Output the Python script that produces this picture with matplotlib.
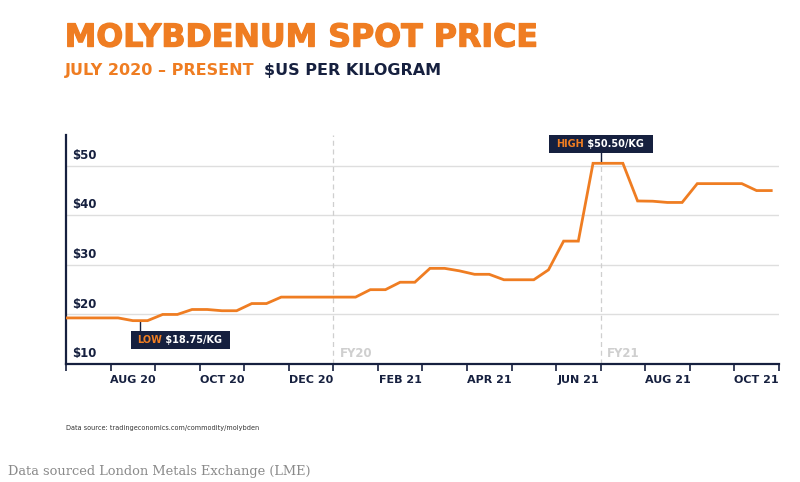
import matplotlib.pyplot as plt
import matplotlib.patheffects as pe
from matplotlib.patches import Rectangle
from matplotlib.transforms import blended_transform_factory

orange = '#ef7d22'
navy = '#16203f'
grid_grey = '#dedede'
fy_grey = '#cfcfcf'

# price vertices, x = months since 1 Jul 2020
months = [0, 1.17, 1.5, 1.83, 2.17, 2.5, 2.83, 3.17, 3.5, 3.83,
          4.17, 4.5, 4.83, 6.5, 6.83, 7.17, 7.5, 7.83, 8.17, 8.5,
          8.83, 9.17, 9.5, 9.83, 10.5, 10.83, 11.17, 11.5, 11.83, 12.5,
          12.83, 13.17, 13.5, 13.83, 14.17, 15.17, 15.5, 15.83]
prices = [19.3, 19.3, 18.75, 18.75, 20.0, 20.0, 21.0, 21.0, 20.75, 20.75,
          22.2, 22.2, 23.5, 23.5, 25.0, 25.0, 26.5, 26.5, 29.3, 29.3,
          28.8, 28.1, 28.1, 27.0, 27.0, 29.0, 34.8, 34.8, 50.5, 50.5,
          42.9, 42.85, 42.6, 42.6, 46.4, 46.4, 45.0, 45.0]

month_ticks = list(range(17))
label_pos = [1.5, 3.5, 5.5, 7.5, 9.5, 11.5, 13.5, 15.5]
label_txt = ["AUG 20", "OCT 20", "DEC 20", "FEB 21", "APR 21", "JUN 21", "AUG 21", "OCT 21"]
y_vals = [10, 20, 30, 40, 50]
y_txt = ["$10", "$20", "$30", "$40", "$50"]

fy_pos = [6, 12]
fy_txt = ["FY20", "FY21"]

low_x, low_y = 1.67, 18.75
high_x, high_y = 12, 50.5

fig = plt.figure(figsize=(8, 4.82), dpi=100)
ax = fig.add_axes([0.0825, 0.2448, 0.891, 0.475])

ax.plot(months, prices, color=orange, lw=2, solid_joinstyle='miter', zorder=3)

ax.set_xlim(0, 16)
ax.set_ylim(10, 56.2)

# grid lines
for v in y_vals[1:]:
    ax.axhline(v, color=grid_grey, lw=1, zorder=1)

# y labels sit inside the plot above each line
trans = blended_transform_factory(ax.transAxes, ax.transData)
for v, t in zip(y_vals, y_txt):
    ax.text(0.008, v + 2.1, t, transform=trans, ha='left', va='center',
            fontsize=8.5, fontweight='bold', color=navy)
ax.set_yticks([])

# fiscal year dividers
for p, t in zip(fy_pos, fy_txt):
    ax.axvline(p, color=fy_grey, lw=0.9, ls=(0, (4, 3)), zorder=1)
    ax.text(p + 0.15, 12.1, t, ha='left', va='center', fontsize=8.5,
            fontweight='bold', color=fy_grey)

ax.set_xticks(month_ticks)
ax.set_xticklabels([])
ax.set_xticks(label_pos, minor=True)
ax.set_xticklabels(label_txt, minor=True)
ax.tick_params(axis='x', which='major', direction='out', length=5, width=1.2, color=navy)
ax.tick_params(axis='x', which='minor', length=0, pad=8, labelsize=8, labelcolor=navy)
for lab in ax.get_xticklabels(minor=True):
    lab.set_fontweight('bold')

for s in ['top', 'right']:
    ax.spines[s].set_visible(False)
for s in ['left', 'bottom']:
    ax.spines[s].set_color(navy)
    ax.spines[s].set_linewidth(1.6)

# low callout
ax.plot([low_x, low_x], [low_y, 16.7], color=navy, lw=1, zorder=2)
ax.add_patch(Rectangle((1.46, 13.0), 2.22, 3.7, fc=navy, ec='none', zorder=4, clip_on=False))
t1 = ax.text(1.6, 14.85, "LOW", ha='left', va='center', fontsize=7,
             fontweight='bold', color=orange, zorder=5)
ax.annotate(" $18.75/KG", xy=(1, 0.5), xycoords=t1, ha='left', va='center',
            fontsize=7, fontweight='bold', color='white', zorder=5)

# high callout
ax.plot([high_x, high_x], [high_y, 52.5], color=navy, lw=1, zorder=2)
ax.add_patch(Rectangle((10.84, 52.5), 2.33, 3.7, fc=navy, ec='none', zorder=4, clip_on=False))
t2 = ax.text(11.0, 54.35, "HIGH", ha='left', va='center', fontsize=7,
             fontweight='bold', color=orange, zorder=5)
ax.annotate(" $50.50/KG", xy=(1, 0.5), xycoords=t2, ha='left', va='center',
            fontsize=7, fontweight='bold', color='white', zorder=5)

# titles
heavy = [pe.withStroke(linewidth=0.9, foreground=orange)]
fig.text(0.081, 0.921, "MOLYBDENUM SPOT PRICE", ha='left', va='center',
         fontsize=22.8, fontweight='bold', color=orange, path_effects=heavy)
fig.text(0.081, 0.853, "JULY 2020 \u2013 PRESENT", ha='left', va='center',
         fontsize=11.5, fontweight='bold', color=orange)
fig.text(0.33, 0.853, "$US PER KILOGRAM", ha='left', va='center',
         fontsize=11.5, fontweight='bold', color=navy)

fig.text(0.082, 0.112, "Data source: tradingeconomics.com/commodity/molybden",
         ha='left', va='center', fontsize=4.7, color='#333333')
fig.text(0.01, 0.022, "Data sourced London Metals Exchange (LME)", ha='left',
         va='center', fontsize=9.4, color='#8a8a8a', family='DejaVu Serif')

fig.savefig('out.png', dpi=100)
